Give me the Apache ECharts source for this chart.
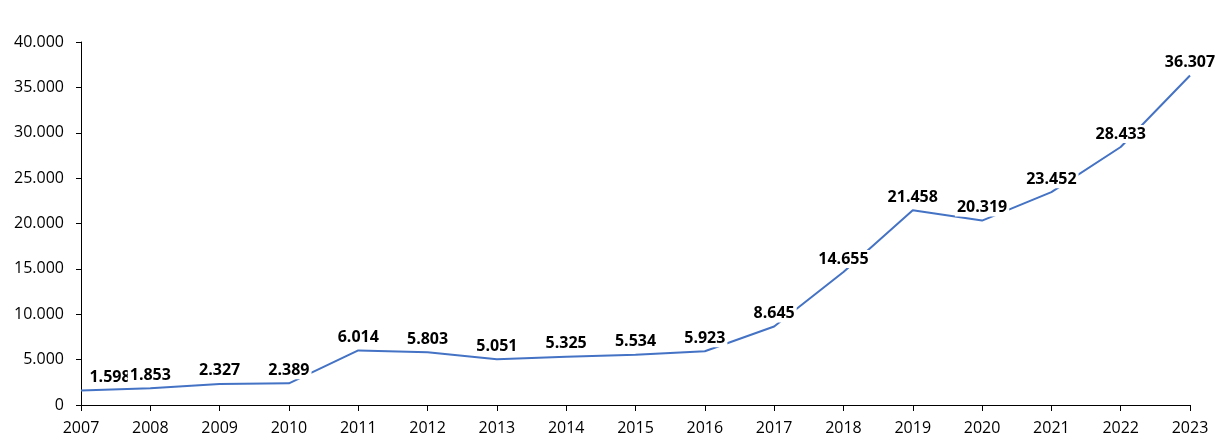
<!DOCTYPE html>
<html><head><meta charset="utf-8">
<script src="https://cdn.jsdelivr.net/npm/echarts@6/dist/echarts.min.js"></script>
<style>html,body{margin:0;padding:0;background:#fff}#c{width:1219px;height:447px}</style>
</head><body><div id="c"></div>
<script>
const categories = ['2007','2008','2009','2010','2011','2012','2013','2014','2015','2016','2017','2018','2019','2020','2021','2022','2023'];
const values = [1598,1853,2327,2389,6014,5803,5051,5325,5534,5923,8645,14655,21458,20319,23452,28433,36307];
const fmt = v => String(v).replace(/\B(?=(\d{3})+(?!\d))/g, '.');
const chart = echarts.init(document.getElementById('c'), null, {renderer:'canvas'});
chart.setOption({
  animation:false,
  grid:{left:81,right:29,top:42,bottom:42,containLabel:false},
  xAxis:{type:'category',data:categories,boundaryGap:false,
    axisLine:{lineStyle:{color:'#000',width:1}},
    axisTick:{show:true,alignWithLabel:true,length:6,lineStyle:{color:'#000'}},
    axisLabel:{color:'#000',fontSize:16,fontFamily:'Open Sans',margin:15,interval:0},
    splitLine:{show:false}},
  yAxis:{type:'value',min:0,max:40000,interval:5000,
    axisLine:{show:true,lineStyle:{color:'#000',width:1}},
    axisTick:{show:true,length:5,lineStyle:{color:'#000'}},
    axisLabel:{color:'#000',fontSize:16,fontFamily:'Open Sans',margin:17,formatter:v=>fmt(v)},
    splitLine:{show:false}},
  series:[{type:'line',data:values,symbol:'circle',symbolSize:2,showSymbol:true,showAllSymbol:true,
    itemStyle:{color:'rgba(68,114,196,0)',borderWidth:0},
    lineStyle:{color:'#4472C4',width:2},
    label:{show:true,position:'top',distance:3,formatter:p=>fmt(p.value),
      fontSize:16,fontWeight:'bold',fontFamily:'Open Sans',color:'#000',
      backgroundColor:'#fff',padding:[1,2]},
    labelLayout:p => (p.dataIndex === 0 ? {dx: 29, hideOverlap:false} : {hideOverlap:false}),
    z:3}]
});
</script></body></html>
